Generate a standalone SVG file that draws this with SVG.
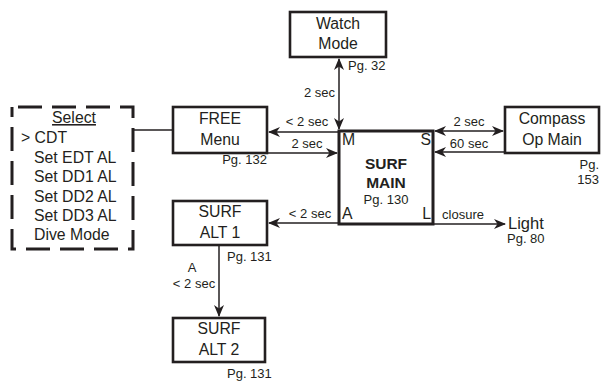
<svg xmlns="http://www.w3.org/2000/svg" width="613" height="381" viewBox="0 0 613 381">
<style>
.box{fill:#fff;stroke:#231f20;stroke-width:2.6}
.main{fill:#fff;stroke:#231f20;stroke-width:3}
.t{font-family:"Liberation Sans",Arial,sans-serif;font-size:15.8px;fill:#231f20}
.s{font-family:"Liberation Sans",Arial,sans-serif;font-size:13px;fill:#231f20}
.b{font-family:"Liberation Sans",Arial,sans-serif;font-size:15.5px;font-weight:bold;fill:#231f20}
.c{stroke:#231f20;stroke-width:1.5;fill:none}
</style>
<defs>
<marker id="ah" markerUnits="userSpaceOnUse" markerWidth="12" markerHeight="10" refX="11" refY="5" orient="auto-start-reverse" viewBox="0 0 12 10">
<path d="M0,0 L12,5 L0,10 L3.5,5 z" fill="#231f20"/>
</marker>
</defs>
<g id="connectors">
<line class="c" x1="339" y1="59" x2="339" y2="129" marker-start="url(#ah)" marker-end="url(#ah)"/>
<line class="c" x1="339" y1="132" x2="269" y2="132" marker-end="url(#ah)"/>
<line class="c" x1="267" y1="153" x2="337" y2="153" marker-end="url(#ah)"/>
<line class="c" x1="435" y1="131" x2="503" y2="131" marker-start="url(#ah)" marker-end="url(#ah)"/>
<line class="c" x1="505" y1="152" x2="435" y2="152" marker-end="url(#ah)"/>
<line class="c" x1="433" y1="224" x2="505" y2="224" marker-end="url(#ah)"/>
<line class="c" x1="339" y1="223" x2="269" y2="223" marker-end="url(#ah)"/>
<line class="c" x1="219" y1="246" x2="219" y2="316" marker-end="url(#ah)"/>
<line class="c" x1="133" y1="130" x2="173" y2="130"/>
<text class="s" x="335" y="97" text-anchor="end">2 sec</text>
<text class="s" x="307" y="126" text-anchor="middle">&lt; 2 sec</text>
<text class="s" x="307" y="148" text-anchor="middle">2 sec</text>
<text class="s" x="469" y="126" text-anchor="middle">2 sec</text>
<text class="s" x="469" y="148" text-anchor="middle">60 sec</text>
<text class="s" x="463" y="219" text-anchor="middle">closure</text>
<text class="s" x="310" y="218" text-anchor="middle">&lt; 2 sec</text>
<text class="s" x="192" y="272" text-anchor="middle">A</text>
<text class="s" x="194" y="288" text-anchor="middle">&lt; 2 sec</text>
</g>
<g id="watch">
<rect class="box" x="290" y="12" width="96" height="45"/>
<text class="t" x="338" y="29" text-anchor="middle">Watch</text>
<text class="t" x="338" y="49" text-anchor="middle">Mode</text>
<text class="s" x="348" y="70">Pg. 32</text>
</g>
<g id="free">
<rect class="box" x="173" y="107" width="94" height="46"/>
<text class="t" x="220" y="124" text-anchor="middle">FREE</text>
<text class="t" x="220" y="145" text-anchor="middle">Menu</text>
<text class="s" x="267" y="164" text-anchor="end">Pg. 132</text>
</g>
<g id="main">
<rect class="main" x="339" y="131" width="94" height="93"/>
<text class="t" x="342" y="145">M</text>
<text class="t" x="431" y="145" text-anchor="end">S</text>
<text class="t" x="342" y="219">A</text>
<text class="t" x="431" y="219" text-anchor="end">L</text>
<text class="b" x="386" y="169" text-anchor="middle">SURF</text>
<text class="b" x="386" y="188" text-anchor="middle">MAIN</text>
<text class="s" x="386" y="204" text-anchor="middle">Pg. 130</text>
</g>
<g id="compass">
<rect class="box" x="505" y="107" width="94" height="46"/>
<text class="t" x="552" y="124" text-anchor="middle">Compass</text>
<text class="t" x="552" y="145" text-anchor="middle">Op Main</text>
<text class="s" x="599" y="169" text-anchor="end">Pg.</text>
<text class="s" x="599" y="184" text-anchor="end">153</text>
</g>
<g id="light">
<text class="t" x="508" y="229" style="font-size:16.5px">Light</text>
<text class="s" x="507" y="243">Pg. 80</text>
</g>
<g id="alt1">
<rect class="box" x="173" y="201" width="94" height="44"/>
<text class="t" x="220" y="217" text-anchor="middle">SURF</text>
<text class="t" x="220" y="238" text-anchor="middle">ALT 1</text>
<text class="s" x="227" y="261">Pg. 131</text>
</g>
<g id="alt2">
<rect class="box" x="173" y="318" width="92" height="44"/>
<text class="t" x="219" y="334" text-anchor="middle">SURF</text>
<text class="t" x="219" y="355" text-anchor="middle">ALT 2</text>
<text class="s" x="227" y="378">Pg. 131</text>
</g>
<g id="select">
<rect x="12" y="107" width="121" height="142" fill="none" stroke="#231f20" stroke-width="3" stroke-dasharray="24 10" stroke-dashoffset="-6"/>
<text class="t" x="74" y="123" text-anchor="middle" text-decoration="underline">Select</text>
<text class="t" x="21" y="143">&gt; CDT</text>
<text class="t" x="34" y="163">Set EDT AL</text>
<text class="t" x="34" y="182">Set DD1 AL</text>
<text class="t" x="34" y="202">Set DD2 AL</text>
<text class="t" x="34" y="221">Set DD3 AL</text>
<text class="t" x="34" y="240">Dive Mode</text>
</g>
</svg>
